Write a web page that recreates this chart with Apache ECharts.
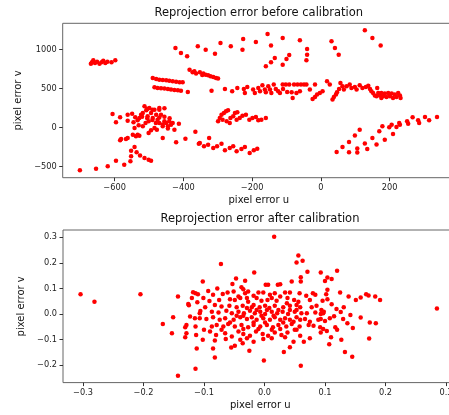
<!DOCTYPE html>
<html>
<head>
<meta charset="utf-8">
<script src="https://cdn.jsdelivr.net/npm/echarts@6/dist/echarts.min.js"></script>
<style>html,body{margin:0;padding:0;background:#fff}#c{width:449px;height:415px}</style>
</head>
<body>
<div id="c"></div>
<script>
// ---------- Data: reprojection error before calibration (pixel u, pixel v) ----------
const beforeCluster800 = [[-669,821],[-666,838],[-662,864],[-657,829],[-651,846],[-644,821],[-638,838],[-633,859],[-627,829],[-621,846],[-609,838],[-598,864]];
const beforeTopSparse = [[-423,1022],[-407,958],[-389,915],[-358,1043],[-335,1000],[-308,949],[-292,1086],[-262,1043],[-226,1137],[-228,1000],[-189,1099],[-155,1201],[-145,1052],[-111,1150],[-61,1120],[-40,1009],[-40,936],[-42,864],[-92,932],[-100,881],[-111,808],[-134,893],[-145,838],[-160,787],[31,1107],[41,1022],[52,936],[128,1248],[150,1150],[174,1052]];
const beforeLine600 = [[-489,637],[-479,625],[-470,616],[-460,612],[-450,607],[-441,603],[-431,595],[-421,590],[-411,582],[-402,582]];
const beforeLine500 = [[-484,518],[-475,509],[-465,505],[-455,501],[-445,496],[-436,488],[-426,483],[-416,479],[-407,475],[-387,458]];
const beforeLine700 = [[-382,744],[-373,710],[-363,693],[-352,710],[-342,693],[-335,680],[-328,671],[-321,658],[-313,650],[-305,637],[-299,629],[-368,725],[-345,675]];
const beforeLeftCluster = [[-606,176],[-596,69],[-584,133],[-562,90],[-562,167],[-549,180],[-540,133],[-545,69],[-533,95],[-528,125],[-523,167],[-518,189],[-513,274],[-508,223],[-504,146],[-501,82],[-499,253],[-494,189],[-489,125],[-484,231],[-479,167],[-475,103],[-470,253],[-470,61],[-465,167],[-460,18],[-455,82],[-450,61],[-445,18],[-441,82],[-436,39],[-431,61],[-426,-25],[-413,52],[-460,-131],[-477,-25],[-484,-4],[-494,-34],[-501,-68],[-518,18],[-542,-4],[-547,-89],[-538,-110],[-533,-89],[-528,-102],[-562,-132],[-567,-144],[-581,-144],[-584,-161],[-421,-188],[-394,-141],[-365,-51],[-355,-205],[-505,240],[-490,230],[-490,100],[-470,230],[-470,130],[-455,250],[-455,140],[-505,120],[-480,60],[-460,40],[-440,120],[-445,-10],[-510,60],[-520,140],[-530,30]];
const beforeLeftArc = [[-552,-295],[-542,-248],[-536,-316],[-526,-355],[-513,-389],[-501,-410],[-494,-423],[-552,-367],[-554,-431],[-572,-474],[-596,-423],[-620,-495],[-654,-525],[-701,-546]];
const beforeMid150 = [[-299,82],[-294,124],[-289,167],[-282,188],[-276,210],[-270,223],[-286,103],[-274,82],[-265,60],[-263,124],[-255,146],[-250,188],[-243,197],[-245,103],[-236,124],[-228,154],[-218,167],[-208,103],[-199,124],[-189,137],[-182,95],[-173,103],[-160,124]];
const beforeLowRow = [[-352,-196],[-340,-239],[-325,-132],[-328,-218],[-313,-260],[-302,-239],[-289,-205],[-279,-290],[-265,-260],[-255,-239],[-245,-303],[-231,-273],[-221,-248],[-207,-325],[-195,-290],[-185,-269]];
const beforeBandMid = [[-318,475],[-279,496],[-258,466],[-243,509],[-224,496],[-221,445],[-214,522],[-197,488],[-192,445],[-182,509],[-177,466],[-170,543],[-163,488],[-160,453],[-153,530],[-148,488],[-144,445],[-137,552],[-131,496],[-124,466],[-119,445],[-111,552],[-110,496],[-102,552],[-98,458],[-92,552],[-85,453],[-82,381],[-78,552],[-71,445],[-68,552],[-61,466],[-58,552],[-49,552],[-42,552],[-32,488],[-17,552],[-24,368],[-17,394],[-11,424],[-3,445],[5,466]];
const beforeBandRight = [[18,595],[26,552],[34,360],[38,394],[44,424],[47,454],[53,496],[57,573],[63,531],[67,488],[75,531],[84,552],[89,509],[99,522],[104,488],[113,543],[121,509],[131,522],[138,539],[143,496],[147,466],[152,445],[157,411],[164,509],[167,445],[172,411],[176,445],[181,402],[186,437],[191,394],[196,445],[201,402],[206,437],[210,381],[215,424],[220,394],[225,445],[230,411],[232,381],[162,402],[176,381]];
const beforeRise = [[46,-311],[63,-247],[82,-183],[99,-101],[113,-25],[82,-315],[106,-268],[106,-319],[128,-204],[135,-272],[150,-131],[162,-217],[170,-46],[179,18],[186,-153],[199,5],[206,39],[210,-80],[220,10],[228,61],[230,39],[251,82],[254,52],[267,133],[283,95],[286,61],[303,137],[315,95],[338,137]];

// ---------- Data: reprojection error after calibration ----------
const afterLeft = [[-0.304,0.077],[-0.281,0.048],[-0.205,0.077],[-0.143,0.068],[-0.118,0.085],[-0.114,0.081],[-0.110,0.077],[-0.120,0.062],[-0.111,0.046],[-0.126,0.039],[-0.125,0.034],[-0.106,0.012],[-0.115,-0.017],[-0.107,-0.017],[-0.123,-0.010],[-0.151,-0.013],[-0.168,-0.039],[-0.129,-0.043],[-0.131,-0.052],[-0.114,-0.049],[-0.153,-0.075],[-0.129,-0.075],[-0.113,-0.082],[-0.131,-0.091],[-0.112,-0.135],[-0.114,-0.214],[-0.143,-0.241]];
const afterCenter = [[0.016,0.302],[-0.072,0.195],[0.056,0.228],[0.053,0.201],[0.063,0.208],[-0.017,0.162],[0.071,0.165],[-0.102,0.127],[-0.047,0.139],[-0.032,0.130],[0.060,0.143],[0.060,0.127],[-0.078,0.100],[-0.053,0.117],[-0.038,0.104],[-0.035,0.097],[-0.027,0.088],[-0.010,0.084],[0.002,0.114],[0.006,0.114],[0.022,0.114],[0.026,0.116],[0.045,0.127],[0.042,0.084],[0.080,0.081],[-0.093,0.090],[-0.085,0.075],[-0.069,0.078],[-0.061,0.084],[-0.051,0.088],[-0.043,0.068],[-0.032,0.081],[-0.018,0.071],[-0.002,0.084],[0.009,0.075],[0.017,0.081],[0.026,0.068],[0.034,0.084],[0.058,0.081],[0.069,0.071],[0.084,0.075],[-0.101,0.062],[-0.091,0.051],[-0.075,0.055],[-0.057,0.058],[-0.049,0.055],[-0.040,0.062],[-0.027,0.048],[-0.013,0.062],[-0.005,0.052],[0.005,0.055],[0.012,0.062],[0.020,0.052],[0.038,0.062],[0.049,0.055],[0.056,0.048],[0.075,0.055],[-0.098,0.026],[-0.082,0.035],[-0.071,0.029],[-0.058,0.032],[-0.046,0.026],[-0.036,0.032],[-0.029,0.023],[-0.018,0.035],[-0.008,0.026],[0.001,0.032],[0.008,0.023],[0.017,0.032],[0.031,0.026],[0.042,0.032],[0.053,0.035],[0.059,0.026],[0.078,0.026],[0.086,0.032],[-0.107,0.003],[-0.087,0.009],[-0.076,0.006],[-0.063,0.013],[-0.054,0.003],[-0.043,0.009],[-0.034,0.003],[-0.024,0.013],[-0.016,0.003],[-0.007,0.009],[0.001,0.000],[0.012,0.009],[0.021,0.003],[0.030,0.009],[0.039,0.000],[0.050,0.009],[0.061,0.003],[0.084,0.006],[-0.096,-0.020],[-0.085,-0.013],[-0.074,-0.023],[-0.065,-0.017],[-0.051,-0.023],[-0.040,-0.013],[-0.029,-0.020],[-0.021,-0.013],[-0.013,-0.023],[-0.002,-0.017],[0.009,-0.023],[0.017,-0.013],[0.026,-0.023],[0.034,-0.017],[0.042,-0.023],[0.053,-0.013],[0.067,-0.020],[0.089,-0.023],[-0.100,-0.062],[-0.087,-0.049],[-0.079,-0.043],[-0.068,-0.049],[-0.060,-0.039],[-0.049,-0.049],[-0.038,-0.043],[-0.027,-0.052],[-0.018,-0.043],[-0.007,-0.049],[0.004,-0.043],[0.014,-0.052],[0.023,-0.043],[0.036,-0.049],[0.045,-0.039],[0.058,-0.049],[0.073,-0.043],[0.081,-0.046],[-0.090,-0.068],[-0.080,-0.082],[-0.065,-0.075],[-0.054,-0.088],[-0.043,-0.068],[-0.035,-0.078],[-0.024,-0.085],[-0.014,-0.068],[-0.003,-0.078],[0.006,-0.085],[0.017,-0.072],[0.028,-0.082],[0.038,-0.072],[0.050,-0.062],[0.059,-0.085],[0.075,-0.095],[-0.102,-0.101],[-0.082,-0.104],[-0.064,-0.098],[-0.040,-0.101],[-0.029,-0.095],[-0.018,-0.108],[-0.002,-0.098],[0.012,-0.095],[0.034,-0.091],[0.048,-0.108],[0.065,-0.108],[-0.055,-0.131],[-0.049,-0.124],[-0.036,-0.114],[0.042,-0.130],[-0.085,-0.135],[-0.025,-0.144],[0.032,-0.148],[-0.082,-0.170],[-0.001,-0.182],[0.060,-0.202],[-0.029,0.062],[-0.021,0.026],[-0.013,0.016],[-0.005,-0.007],[0.004,0.016],[0.015,-0.007],[0.023,0.016],[-0.035,-0.007],[-0.046,-0.007],[-0.018,-0.033],[-0.010,-0.059],[0.001,-0.033],[0.012,-0.062],[0.026,-0.059],[0.031,-0.033],[0.048,-0.030],[0.053,-0.062],[-0.057,-0.033],[-0.071,-0.062],[-0.035,-0.059],[0.042,0.016],[0.037,0.042],[0.053,0.016],[0.059,-0.023],[0.070,0.003],[0.075,-0.030]];
const afterRight = [[0.093,0.162],[0.120,0.169],[0.100,0.129],[0.104,0.142],[0.111,0.137],[0.104,0.095],[0.102,0.077],[0.125,0.084],[0.139,0.068],[0.096,0.052],[0.104,0.058],[0.151,0.055],[0.159,0.064],[0.168,0.077],[0.172,0.072],[0.183,0.068],[0.191,0.055],[0.111,0.038],[0.131,0.026],[0.119,0.019],[0.094,0.016],[0.098,0.009],[0.097,0.003],[0.126,0.008],[0.093,0.000],[0.115,-0.009],[0.108,-0.017],[0.142,-0.004],[0.159,-0.014],[0.130,-0.020],[0.093,-0.020],[0.100,-0.027],[0.137,-0.036],[0.174,-0.033],[0.184,-0.036],[0.117,-0.052],[0.146,-0.055],[0.092,-0.052],[0.097,-0.059],[0.103,-0.066],[0.120,-0.062],[0.093,-0.072],[0.110,-0.091],[0.127,-0.101],[0.173,-0.096],[0.107,-0.118],[0.133,-0.148],[0.145,-0.167],[0.285,0.021]];

// ---------- Tick labels ----------
const beforeXTicks = [-600, -400, -200, 0, 200];
const beforeYTicks = [-500, 0, 500, 1000];
const afterXTicks = [-0.3, -0.2, -0.1, 0.0, 0.1, 0.2, 0.3];
const afterYTicks = [-0.2, -0.1, 0.0, 0.1, 0.2, 0.3];

const beforeData = [].concat(beforeCluster800, beforeTopSparse, beforeLine600, beforeLine500, beforeLine700,
  beforeLeftCluster, beforeLeftArc, beforeMid150, beforeLowRow, beforeBandMid, beforeBandRight, beforeRise);
const afterData = [].concat(afterLeft, afterCenter, afterRight);

const FONT = 'DejaVu Sans';
const minus = s => s.replace('-', '\u2212');
const fmtInt = v => minus(String(Math.round(v)));
const fmt1 = v => minus((Math.abs(v) < 1e-9 ? 0 : v).toFixed(1));

function xAxisCfg(gi, min, max, ticks, f) {
  return {
    type: 'value', gridIndex: gi, min: min, max: max, position: 'bottom',
    name: 'pixel error u', nameLocation: 'middle', nameGap: 18,
    nameTextStyle: { fontFamily: FONT, fontSize: 10, color: '#111' },
    axisLine: { show: false, onZero: false },
    axisTick: { show: true, inside: false, length: 3.5, lineStyle: { color: '#333' }, customValues: ticks },
    axisLabel: { fontFamily: FONT, fontSize: 8.2, color: '#222', margin: 6, customValues: ticks, formatter: f, showMinLabel: true, showMaxLabel: true, hideOverlap: false },
    splitLine: { show: false }
  };
}
function yAxisCfg(gi, min, max, ticks, f) {
  return {
    type: 'value', gridIndex: gi, min: min, max: max, position: 'left',
    name: 'pixel error v', nameLocation: 'middle', nameGap: 35, nameRotate: 90,
    nameTextStyle: { fontFamily: FONT, fontSize: 10, color: '#111' },
    axisLine: { show: false, onZero: false },
    axisTick: { show: true, inside: false, length: 3.5, lineStyle: { color: '#333' }, customValues: ticks },
    axisLabel: { fontFamily: FONT, fontSize: 8.2, color: '#222', margin: 6, customValues: ticks, formatter: f },
    splitLine: { show: false }
  };
}

const chart = echarts.init(document.getElementById('c'), null, { renderer: 'canvas' });
chart.setOption({
  animation: false,
  backgroundColor: '#fff',
  title: [
    { text: 'Reprojection error before calibration', left: 258.8, top: 7, padding: 0, textAlign: 'center',
      textStyle: { fontFamily: FONT, fontSize: 11.5, fontWeight: 'normal', color: '#111' } },
    { text: 'Reprojection error after calibration', left: 260, top: 213, padding: 0, textAlign: 'center',
      textStyle: { fontFamily: FONT, fontSize: 11.5, fontWeight: 'normal', color: '#111' } }
  ],
  grid: [
    { left: 62.7, top: 23.3, width: 392.2, height: 154.4, show: true, borderColor: '#666', borderWidth: 1,
      backgroundColor: 'transparent', containLabel: false, outerBoundsMode: 'none' },
    { left: 63, top: 230, width: 394.5, height: 152.6, show: true, borderColor: '#666', borderWidth: 1,
      backgroundColor: 'transparent', containLabel: false, outerBoundsMode: 'none' }
  ],
  xAxis: [
    xAxisCfg(0, -751, 390, beforeXTicks, fmtInt),
    xAxisCfg(1, -0.333, 0.319, afterXTicks, fmt1)
  ],
  yAxis: [
    yAxisCfg(0, -641, 1338, beforeYTicks, fmtInt),
    yAxisCfg(1, -0.268, 0.328, afterYTicks, fmt1)
  ],
  series: [
    { type: 'scatter', xAxisIndex: 0, yAxisIndex: 0, data: beforeData, symbol: 'circle', symbolSize: 4.5,
      itemStyle: { color: '#ff0000', opacity: 1 } },
    { type: 'scatter', xAxisIndex: 1, yAxisIndex: 1, data: afterData, symbol: 'circle', symbolSize: 4.5,
      itemStyle: { color: '#ff0000', opacity: 1 } }
  ]
});
</script>
</body>
</html>
